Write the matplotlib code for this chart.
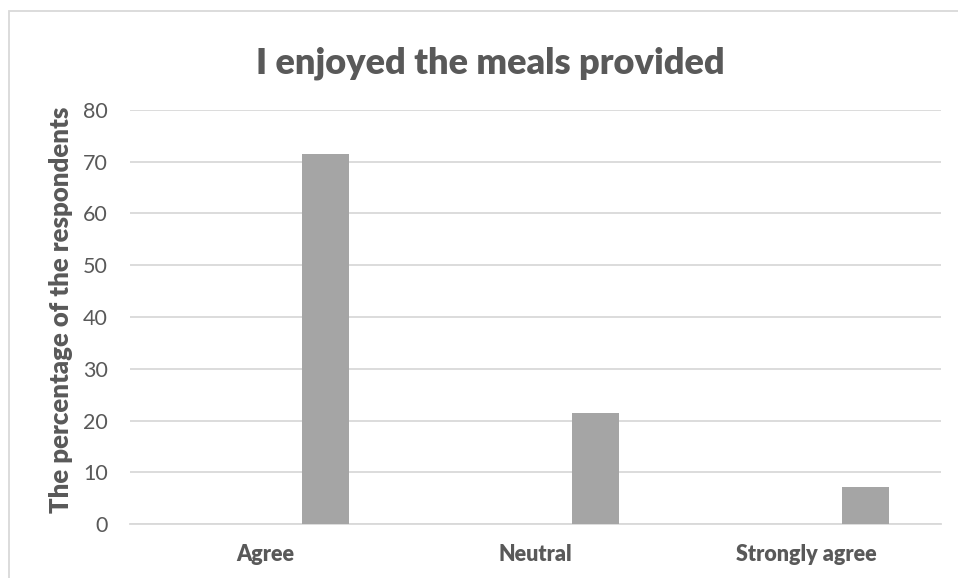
import numpy as np
import matplotlib.pyplot as plt
from matplotlib.patches import Rectangle

categories = ['Agree', 'Neutral', 'Strongly agree']
percentages = [71.43, 21.43, 7.14]
y_ticks = [0, 10, 20, 30, 40, 50, 60, 70, 80]

plt.rcParams['font.family'] = ['Lato', 'DejaVu Sans']

W, H = 958, 578
fig = plt.figure(figsize=(W / 100, H / 100), dpi=100)

# plot area in pixels: left 130, right 941, y=0 at 524.3, y=80 at 109.7
left, right = 130, 941
y0, y80 = 524.3, 109.7
ax = fig.add_axes([left / W, 1 - y0 / H, (right - left) / W, (y0 - y80) / H])

# outer chart frame, runs off the right and bottom edges
fig.patches.append(Rectangle((9 / W, -0.05), 1.0, 1 - 11 / H + 0.05,
                             transform=fig.transFigure, fill=False,
                             edgecolor='#d9d9d9', linewidth=1.3))

x = np.arange(len(categories))
ax.bar(x + 0.222, percentages, width=0.174, color='#a5a5a5', zorder=3)

ax.set_xlim(-0.5, len(categories) - 0.5)
ax.set_ylim(0, 80)
ax.set_yticks(y_ticks)
ax.set_xticks(x)
ax.set_xticklabels(categories, fontweight='heavy')
ax.grid(axis='y', color='#d9d9d9', linewidth=1.3, zorder=0)
ax.tick_params(axis='both', length=0, labelsize=15.5, colors='#595959')
ax.tick_params(axis='x', pad=14)
ax.tick_params(axis='y', pad=16)
for s in ['top', 'right', 'left']:
    ax.spines[s].set_visible(False)
ax.spines['bottom'].set_color('#d9d9d9')
ax.spines['bottom'].set_linewidth(1.3)

fig.text(61 / W, 1 - 310 / H, 'The percentage of the respondents',
         rotation=90, ha='center', va='center', fontsize=18.5,
         fontweight='heavy', color='#595959')
fig.text(490 / W, 1 - 73 / H, 'I enjoyed the meals provided', ha='center',
         va='baseline', fontsize=26, fontweight='heavy', color='#595959')

fig.savefig('out.png', dpi=100)
